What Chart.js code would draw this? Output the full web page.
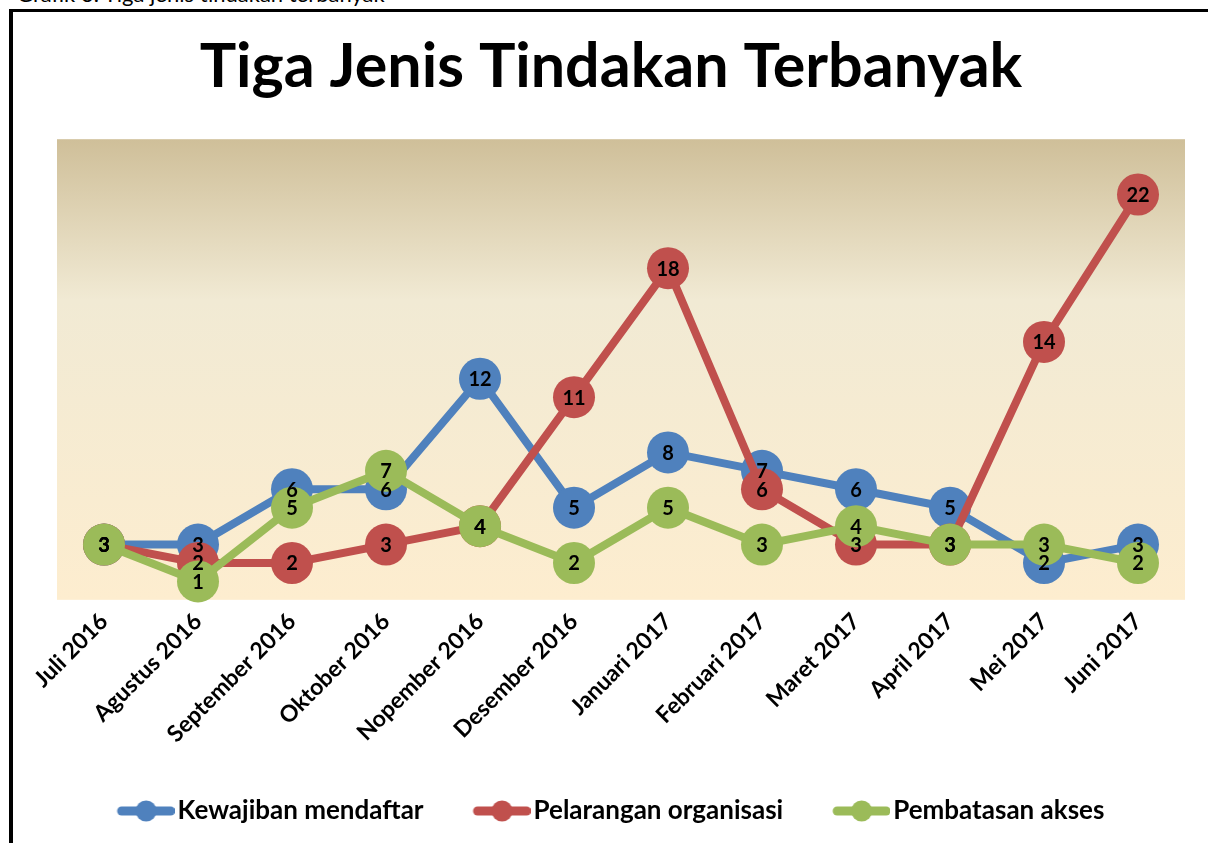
<!DOCTYPE html>
<html>
<head>
<meta charset="utf-8">
<title>Tiga Jenis Tindakan Terbanyak</title>
<script src="https://cdn.jsdelivr.net/npm/chart.js@4.4.1/dist/chart.umd.min.js"></script>
<style>
    html, body { margin: 0; padding: 0; background: #fff; overflow: hidden; }
    #wrap { position: relative; width: 1208px; height: 843px; overflow: hidden; }
    #frame { position: absolute; left: 9px; top: 9px; width: 1220px; height: 860px;
             border-left: 4px solid #000; border-top: 3px solid #000; }
    #caption { position: absolute; left: 17px; top: -17px; font: 22px Lato, sans-serif;
               color: #000; white-space: nowrap; line-height: 22px; }
    #chart { position: absolute; left: 0; top: 0; }
</style>
</head>
<body>
<div id="wrap">
    <div id="caption">Grafik 3. Tiga jenis tindakan terbanyak</div>
    <div id="frame"></div>
    <canvas id="chart" width="1208" height="843"></canvas>
</div>
<script>
// Chart data
const months = ['Juli 2016', 'Agustus 2016', 'September 2016', 'Oktober 2016', 'Nopember 2016',
    'Desember 2016', 'Januari 2017', 'Februari 2017', 'Maret 2017', 'April 2017', 'Mei 2017', 'Juni 2017'];
const kewajibanMendaftar = [3, 3, 6, 6, 12, 5, 8, 7, 6, 5, 2, 3];
const pelaranganOrganisasi = [3, 2, 2, 3, 4, 11, 18, 6, 3, 3, 14, 22];
const pembatasanAkses = [3, 1, 5, 7, 4, 2, 5, 3, 4, 3, 3, 2];
const yRange = [0, 25];

const BLUE = '#4F81BD';
const RED = '#C0504D';
const GREEN = '#9BBB59';
const FONT = 'Lato, "Open Sans", sans-serif';

// Legend marker: line with a dot in the middle (content sits in x 10..67)
function legendMarker(color) {
    const c = document.createElement('canvas');
    c.width = 67;
    c.height = 24;
    const g = c.getContext('2d');
    g.strokeStyle = color;
    g.lineWidth = 9;
    g.lineCap = 'round';
    g.beginPath();
    g.moveTo(14, 12);
    g.lineTo(63, 12);
    g.stroke();
    g.fillStyle = color;
    g.beginPath();
    g.arc(38.5, 12, 10.5, 0, Math.PI * 2);
    g.fill();
    return c;
}
const legendMarkers = [legendMarker(BLUE), legendMarker(RED), legendMarker(GREEN)];

// Plot area gradient
const plotBackground = {
    id: 'plotBackground',
    beforeDatasetsDraw(chart) {
        const { ctx, chartArea: a } = chart;
        const grad = ctx.createLinearGradient(0, a.top, 0, a.bottom);
        grad.addColorStop(0, '#CFBF99');
        grad.addColorStop(0.35, '#F1EAD4');
        grad.addColorStop(1, '#FDEDCF');
        ctx.save();
        ctx.fillStyle = grad;
        ctx.fillRect(a.left, a.top, a.width, a.height);
        ctx.restore();
    }
};

// Value labels drawn on top of every point
const pointLabels = {
    id: 'pointLabels',
    afterDatasetsDraw(chart) {
        const ctx = chart.ctx;
        ctx.save();
        ctx.font = 'bold 20px ' + FONT;
        ctx.fillStyle = '#000';
        ctx.textAlign = 'center';
        ctx.textBaseline = 'middle';
        chart.data.datasets.forEach((ds, i) => {
            chart.getDatasetMeta(i).data.forEach((pt, j) => {
                ctx.fillText(String(ds.data[j]), pt.x, pt.y + 1);
            });
        });
        ctx.restore();
    }
};

function series(label, data, color, order) {
    return {
        label: label,
        data: data,
        borderColor: color,
        backgroundColor: color,
        borderWidth: 8,
        pointRadius: 21,
        pointHoverRadius: 21,
        pointBorderWidth: 0,
        pointBackgroundColor: color,
        tension: 0,
        clip: false,
        order: order
    };
}

new Chart(document.getElementById('chart'), {
    type: 'line',
    data: {
        labels: months,
        datasets: [
            series('Kewajiban mendaftar', kewajibanMendaftar, BLUE, 3),
            series('Pelarangan organisasi', pelaranganOrganisasi, RED, 2),
            series('Pembatasan akses', pembatasanAkses, GREEN, 1)
        ]
    },
    options: {
        responsive: false,
        animation: false,
        events: [],
        layout: { padding: { left: 37, right: 23, top: 31, bottom: 9 } },
        plugins: {
            title: {
                display: true,
                text: 'Tiga Jenis Tindakan Terbanyak',
                color: '#000',
                font: { family: FONT, size: 61, weight: 'bold' },
                padding: { top: 0, bottom: 35 }
            },
            legend: {
                position: 'bottom',
                labels: {
                    usePointStyle: true,
                    pointStyleWidth: 47,
                    boxHeight: 24,
                    padding: 50,
                    color: '#000',
                    font: { family: FONT, size: 26, weight: 'bold' },
                    generateLabels(chart) {
                        return chart.data.datasets.map((ds, i) => ({
                            text: ds.label,
                            pointStyle: legendMarkers[i],
                            fillStyle: ds.borderColor,
                            strokeStyle: ds.borderColor,
                            lineWidth: 0,
                            fontColor: '#000',
                            hidden: false,
                            datasetIndex: i
                        }));
                    }
                }
            },
            tooltip: { enabled: false }
        },
        scales: {
            x: {
                offset: true,
                grid: { display: false },
                border: { display: false },
                ticks: {
                    color: '#000',
                    maxRotation: 45,
                    minRotation: 45,
                    padding: 0,
                    font: { family: FONT, size: 23, weight: 'bold' }
                }
            },
            y: {
                display: true,
                min: yRange[0],
                max: yRange[1],
                grid: { display: false },
                border: { display: false },
                ticks: { display: false },
                afterFit(scale) { scale.width = 20; }
            }
        }
    },
    plugins: [plotBackground, pointLabels]
});
</script>
</body>
</html>
